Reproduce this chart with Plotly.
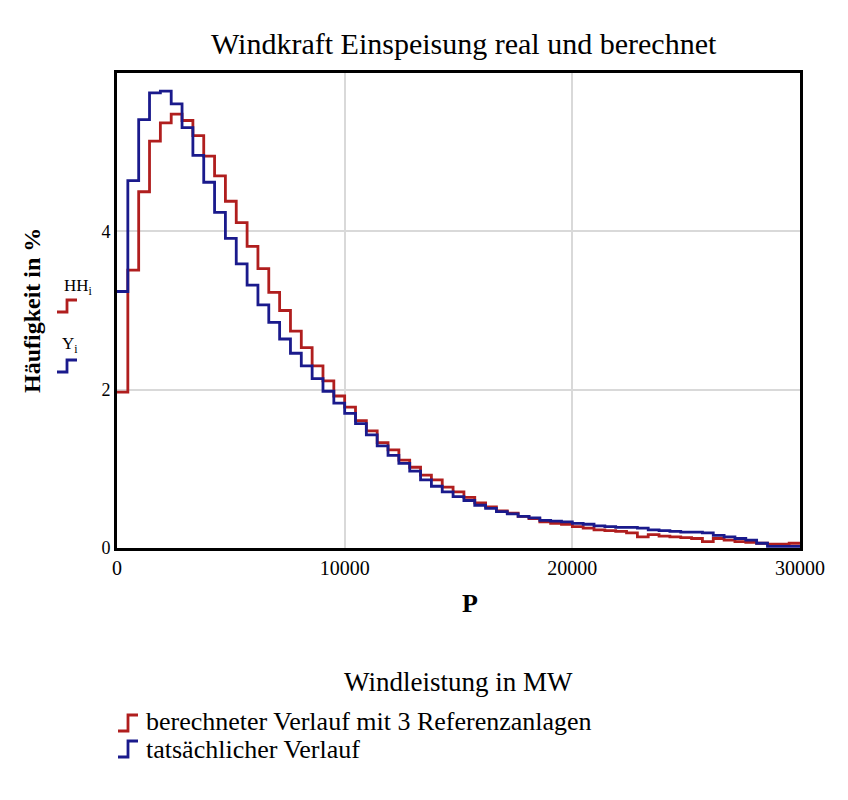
import plotly.graph_objects as go

# ---- data ----
bin_width_mw = 30000 / 63  # step width in MW

hh_values = [1.97, 3.51, 4.50, 5.14, 5.37, 5.48, 5.40, 5.21, 4.95, 4.70,
             4.38, 4.11, 3.81, 3.53, 3.23, 3.00, 2.74, 2.53, 2.30, 2.11,
             1.92, 1.78, 1.61, 1.48, 1.33, 1.24, 1.11, 1.02, 0.92, 0.86,
             0.77, 0.71, 0.64, 0.57, 0.52, 0.47, 0.44, 0.40, 0.37, 0.33,
             0.31, 0.30, 0.27, 0.25, 0.23, 0.22, 0.21, 0.19, 0.14, 0.17,
             0.15, 0.14, 0.13, 0.12, 0.08, 0.12, 0.10, 0.08, 0.07, 0.06,
             0.05, 0.05, 0.06]

y_values = [3.24, 4.64, 5.41, 5.75, 5.77, 5.61, 5.31, 4.96, 4.62, 4.24,
            3.91, 3.59, 3.32, 3.07, 2.85, 2.64, 2.46, 2.30, 2.14, 1.98,
            1.83, 1.70, 1.57, 1.43, 1.29, 1.17, 1.07, 0.97, 0.86, 0.78,
            0.71, 0.65, 0.60, 0.54, 0.50, 0.46, 0.43, 0.40, 0.38, 0.35,
            0.34, 0.33, 0.31, 0.30, 0.28, 0.27, 0.26, 0.26, 0.25, 0.23,
            0.22, 0.21, 0.20, 0.20, 0.19, 0.16, 0.14, 0.12, 0.10, 0.06,
            0.02, 0.02, 0.02]

x_tick_vals = [0, 10000, 20000, 30000]
x_tick_text = ["0", "10000", "20000", "30000"]
y_tick_vals = [0, 2, 4]
y_tick_text = ["0", "2", "4"]

edges = [i * bin_width_mw for i in range(len(hh_values) + 1)]

RED = "#b01e1e"
BLUE = "#1a1a8c"
FONT = "Liberation Serif"

OFF = 8  # page body margin
W, H = 848 - OFF, 800 - OFF
L, R, T, B = 117, 800, 73, 548  # plot area in page pixels


def px(x):
    return (x - L) / (R - L)


def py(y):
    return (B - y) / (B - T)


fig = go.Figure()
fig.add_trace(go.Scatter(x=edges, y=hh_values + [hh_values[-1]], mode="lines",
                         line=dict(shape="hv", color=RED, width=2.8),
                         name="berechneter Verlauf mit 3 Referenzanlagen"))
fig.add_trace(go.Scatter(x=edges, y=y_values + [y_values[-1]], mode="lines",
                         line=dict(shape="hv", color=BLUE, width=2.8),
                         name="tatsächlicher Verlauf"))

fig.update_layout(
    width=W, height=H,
    margin=dict(l=L - OFF, r=W - (R - OFF), t=T - OFF, b=H - (B - OFF)),
    paper_bgcolor="white", plot_bgcolor="white",
    showlegend=False,
    font=dict(family=FONT, color="black"),
)
fig.update_xaxes(range=[0, 30000], tickvals=x_tick_vals, ticktext=x_tick_text,
                 showgrid=True, gridcolor="#d9d9d9", gridwidth=1.5,
                 showline=True, linecolor="black", linewidth=3, mirror=True,
                 ticks="", zeroline=False,
                 tickfont=dict(family=FONT, size=20, color="black"))
fig.update_yaxes(range=[0, 6], tickvals=y_tick_vals, ticktext=y_tick_text,
                 showgrid=True, gridcolor="#d9d9d9", gridwidth=1.5,
                 showline=True, linecolor="black", linewidth=3, mirror=True,
                 ticks="", zeroline=False, ticklabelstandoff=0,
                 tickfont=dict(family=FONT, size=18, color="black"))

ann = []
ann.append(dict(text="Windkraft Einspeisung real und berechnet", x=px(464), y=py(44),
                font=dict(size=30)))
ann.append(dict(text="<b>P</b>", x=px(470), y=py(603), font=dict(size=26)))
ann.append(dict(text="Windleistung in MW", x=px(458), y=py(682), font=dict(size=27)))
ann.append(dict(text="<b>Häufigkeit in %</b>", x=px(32), y=py(311), textangle=-90,
                font=dict(size=24)))
ann.append(dict(text="HH<sub>i</sub>", x=px(78), y=py(287), font=dict(size=17)))
ann.append(dict(text="Y<sub>i</sub>", x=px(70), y=py(345), font=dict(size=17)))
ann.append(dict(text="berechneter Verlauf mit 3 Referenzanlagen", x=px(144), y=py(721),
                xanchor="left", font=dict(size=26)))
ann.append(dict(text="tatsächlicher Verlauf", x=px(144), y=py(749),
                xanchor="left", font=dict(size=26)))
for a in ann:
    a.setdefault("xanchor", "center")
    a.update(xref="paper", yref="paper", showarrow=False, yanchor="middle")
    fig.add_annotation(**a)


def step_icon(x0, x1, ylow, yhigh, color):
    xm = (x0 + x1) / 2
    path = (f"M {px(x0)} {py(ylow)} L {px(xm)} {py(ylow)} L {px(xm)} {py(yhigh)} "
            f"L {px(x1)} {py(yhigh)}")
    return dict(type="path", path=path, xref="paper", yref="paper",
                line=dict(color=color, width=2.8))


fig.add_shape(**step_icon(57, 77, 312, 300, RED))
fig.add_shape(**step_icon(57, 77, 372, 360, BLUE))
fig.add_shape(**step_icon(118, 138, 731, 715, RED))
fig.add_shape(**step_icon(118, 138, 757, 741, BLUE))

fig.write_html("out.html")
